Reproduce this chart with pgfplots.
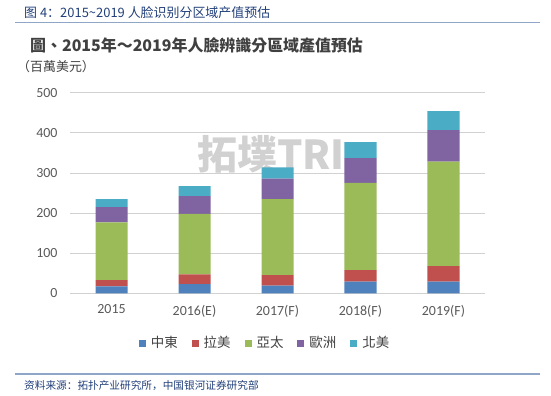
\documentclass[border=0pt]{standalone}
\usepackage{pgfplots}
\pgfplotsset{compat=1.18}
\usepackage{fontspec}
\setmainfont{Carlito}
\newfontfamily\tcfont{Noto Sans CJK TC}
\newfontfamily\scfont{Noto Sans CJK SC}
\definecolor{cME}{HTML}{4F81BD}
\definecolor{cLA}{HTML}{C0504D}
\definecolor{cAP}{HTML}{9BBB59}
\definecolor{cEU}{HTML}{8064A2}
\definecolor{cNA}{HTML}{4BACC6}
\definecolor{hdr}{HTML}{22407A}
\definecolor{hdrline}{HTML}{8FA6C6}
\definecolor{tickgray}{HTML}{595959}
\definecolor{ttl}{HTML}{404040}
\begin{document}
\begin{tikzpicture}
\path[use as bounding box] (0bp,0bp) rectangle (551bp,396bp);
% header
\node[anchor=west, text=hdr, font=\scfont\fontsize{13}{15}\selectfont, inner sep=0] at (24bp,383.5bp) {图 4：2015\textasciitilde2019 人脸识别分区域产值预估};
\draw[hdrline, line width=1.2bp] (15bp,373.3bp) -- (540bp,373.3bp);
% inner title
\node[anchor=west, text=ttl, font=\tcfont\bfseries\fontsize{16}{18}\selectfont, inner sep=0] at (30bp,351bp) {圖、2015年～2019年人臉辨識分區域產值預估};
\node[anchor=west, text=ttl, font=\tcfont\fontsize{13}{15}\selectfont, inner sep=0] at (17bp,329bp) {（百萬美元）};
% watermark
\node[text=black!18, font=\tcfont\bfseries\fontsize{40}{40}\selectfont, inner sep=0] at (271bp,242bp) {拓墣TRI};
% footer
\draw[hdrline, line width=1.2bp] (15bp,22bp) -- (540bp,22bp);
\node[anchor=west, text=hdr, font=\scfont\fontsize{10.7}{12}\selectfont, inner sep=0] at (24bp,10bp) {资料来源：拓扑产业研究所，中国银河证券研究部};
\begin{axis}[
  at={(70bp,102.7bp)}, anchor=south west,
  scale only axis, width=415bp, height=200.6bp,
  xmin=-0.5, xmax=4.5, ymin=0, ymax=500,
  enlargelimits=false,
  ybar stacked, bar width=32bp,
  xtick={0,1,2,3,4},
  xticklabels={2015,2016(E),2017(F),2018(F),2019(F)},
  ytick={0,100,200,300,400,500},
  ymajorgrids, grid style={black!18, line width=0.8bp},
  axis line style={draw=none},
  major tick length=0pt,
  /pgf/number format/assume math mode=true,
  tick label style={font=\fontsize{14}{16}\selectfont, text=tickgray},
  yticklabel style={xshift=-9bp},
  xticklabel style={yshift=-8bp},
  legend style={at={(0.47,-0.248)}, anchor=center, draw=none, fill=none,
    legend columns=5, font=\tcfont\fontsize{13.5}{15}\selectfont, text=ttl,
    /tikz/every odd column/.append style={column sep=3bp},
    /tikz/every even column/.append style={column sep=12bp}},
  legend image code/.code={\fill[#1] (0bp,-3.5bp) rectangle (7bp,3.5bp);},
]
\addplot[fill=cME, draw=none] coordinates {(0,17) (1,23) (2,19) (3,29) (4,29)};
\addplot[fill=cLA, draw=none] coordinates {(0,16) (1,24) (2,26) (3,29) (4,39)};
\addplot[fill=cAP, draw=none] coordinates {(0,144) (1,151) (2,190) (3,217) (4,260)};
\addplot[fill=cEU, draw=none] coordinates {(0,38) (1,44) (2,51) (3,62) (4,79)};
\addplot[fill=cNA, draw=none] coordinates {(0,20) (1,25) (2,28) (3,40) (4,47)};
\legend{中東,拉美,亞太,歐洲,北美}
\end{axis}
\end{tikzpicture}
\end{document}
